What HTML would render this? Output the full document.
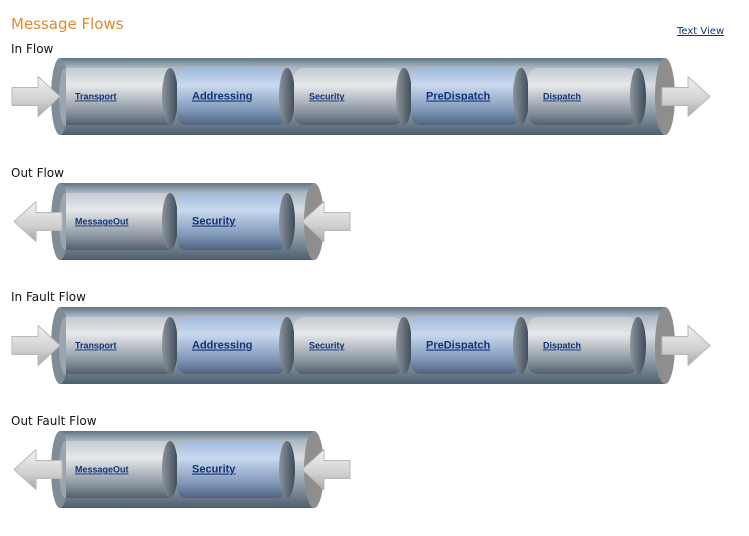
<!DOCTYPE html>
<html><head><meta charset="utf-8"><style>
body{margin:0;background:#fff;width:749px;height:536px;overflow:hidden;font-family:"DejaVu Sans","Liberation Sans",sans-serif;position:relative}
.t{position:absolute;left:11px;top:15px;color:#e0892f;font-size:15px}
.lbl{position:absolute;left:11px;font-size:12px;color:#111}
.tv{position:absolute;left:677px;top:26px;font-size:10px;color:#12337a;text-decoration:underline}
svg{position:absolute;left:0;top:0}
</style></head><body>
<div class="t">Message Flows</div>
<a class="tv">Text View</a>
<div class="lbl" style="top:42px">In Flow</div>
<div class="lbl" style="top:166px">Out Flow</div>
<div class="lbl" style="top:290px">In Fault Flow</div>
<div class="lbl" style="top:414px">Out Fault Flow</div>
<svg id="s" width="749" height="536">
<defs>
<linearGradient id="tube" x1="0" y1="0" x2="0" y2="1">
<stop offset="0" stop-color="#5f7383"/><stop offset="0.12" stop-color="#a9b6c0"/><stop offset="0.35" stop-color="#d8dde2"/><stop offset="0.7" stop-color="#8d9aa6"/><stop offset="1" stop-color="#4d5f6f"/></linearGradient>
<linearGradient id="seg" x1="0" y1="0" x2="0" y2="1">
<stop offset="0" stop-color="#c4cad0"/><stop offset="0.3" stop-color="#e6e8ea"/><stop offset="0.75" stop-color="#8d98a3"/><stop offset="1" stop-color="#53606c"/></linearGradient>
<linearGradient id="blue" x1="0" y1="0" x2="0" y2="1">
<stop offset="0" stop-color="#9fb9d9"/><stop offset="0.3" stop-color="#c9d9ee"/><stop offset="0.75" stop-color="#7e96b6"/><stop offset="1" stop-color="#4f6380"/></linearGradient>
<linearGradient id="div" x1="0" y1="0" x2="1" y2="0">
<stop offset="0" stop-color="#8c949c"/><stop offset="1" stop-color="#3e4b58"/></linearGradient>
<linearGradient id="arr" x1="0" y1="0" x2="0" y2="1">
<stop offset="0" stop-color="#f2f2f2"/><stop offset="0.6" stop-color="#d0d0d0"/><stop offset="1" stop-color="#a8a8a8"/></linearGradient>
</defs>
</svg>
<script>
var flowTops=[58,183,307,431];
var flowNames=['in-flow','out-flow','in-fault-flow','out-fault-flow'];
var inSegs=['Transport','Addressing','Security','PreDispatch','Dispatch'];
var outSegs=['MessageOut','Security'];
var NS='http://www.w3.org/2000/svg',S=document.getElementById('s');
function mk(t,a,p){var e=document.createElementNS(NS,t);for(var k in a)e.setAttribute(k,a[k]);(p||S).appendChild(e);return e;}
function arrow(g,x,cy,dir){var pts;
 if(dir>0)pts=[[x,cy-9],[x+26,cy-9],[x+26,cy-20],[x+48,cy],[x+26,cy+20],[x+26,cy+9],[x,cy+9]];
 else pts=[[x+48,cy-9],[x+22,cy-9],[x+22,cy-20],[x,cy],[x+22,cy+20],[x+22,cy+9],[x+48,cy+9]];
 var a=mk('polygon',{points:pts.map(function(p){return p.join(',')}).join(' '),fill:'url(#arr)',stroke:'#b8b8b8','stroke-width':1,'stroke-linejoin':'round'},g);
 }
function flow(i,segs){
 var top=flowTops[i],h=77,cy=top+h/2,segW=117,x0=52,n=segs.length,right=x0+n*segW+28;
 var g=mk('g',{});
 mk('rect',{x:x0+8,y:top,width:right-x0-8,height:h,fill:'url(#tube)'},g);
 mk('ellipse',{cx:x0+8,cy:cy,rx:9,ry:h/2,fill:'#7f8d99'},g);
 mk('ellipse',{cx:x0+13,cy:cy,rx:6,ry:h/2-10,fill:'#9aa5af'},g);
 for(var k=0;k<n;k++){
  var sx=x0+k*segW,name=segs[k],isBlue=(i%2==0)?(k%2==1):(k==1);
  mk('rect',{x:sx+(k?8:14),y:top+10,width:segW-(k?8:14),height:h-20,rx:k?10:0,fill:isBlue?'url(#blue)':'url(#seg)'},g);
  mk('ellipse',{cx:sx+118,cy:cy,rx:8,ry:h/2-10,fill:'url(#div)'},g);
  var t=mk('text',{x:sx+23,y:cy+3,'font-family':'Liberation Sans, sans-serif','font-size':isBlue?11:9,'font-weight':'bold',fill:'#12337a','text-decoration':'underline'},g);
  t.textContent=name;
 }
 mk('ellipse',{cx:right,cy:cy,rx:10,ry:h/2,fill:'#8e8e8e'},g);
 if(i%2==0){arrow(g,12,cy,1);arrow(g,662,cy,1);}else{arrow(g,14,cy,-1);arrow(g,right-12,cy,-1);}
}
flow(0,inSegs);flow(1,outSegs);flow(2,inSegs);flow(3,outSegs);
</script>
</body></html>
